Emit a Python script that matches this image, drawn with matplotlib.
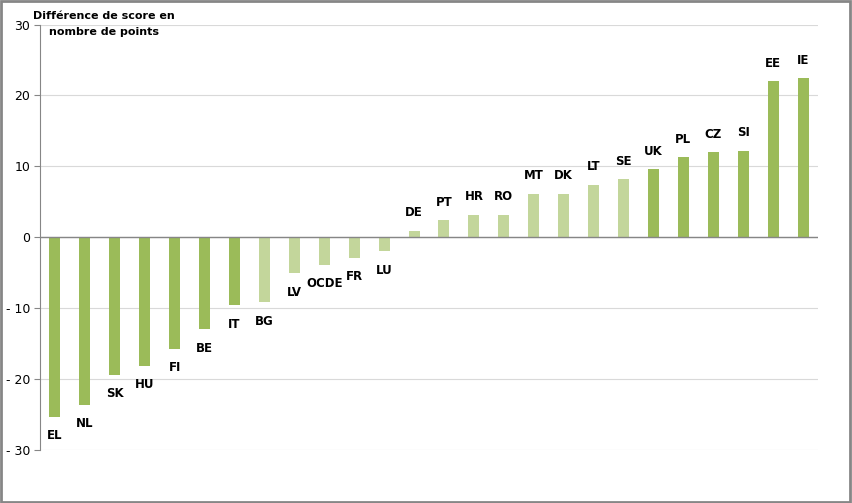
import matplotlib
matplotlib.use("Agg")
import matplotlib.pyplot as plt
from matplotlib.patches import Rectangle

countries = ["EL", "NL", "SK", "HU", "FI", "BE", "IT", "BG", "LV", "OCDE", "FR", "LU", "DE",
             "PT", "HR", "RO", "MT", "DK", "LT", "SE", "UK", "PL", "CZ", "SI", "EE", "IE"]
values = [-25.3, -23.6, -19.4, -18.1, -15.7, -13.0, -9.6, -9.2, -5.1, -3.9, -2.9, -2.0, 0.9,
          2.4, 3.2, 3.2, 6.1, 6.1, 7.4, 8.2, 9.6, 11.3, 12.0, 12.2, 22.0, 22.4]
# True = statistically significant (dark green), False = not significant (light green)
significant = [True, True, True, True, True, True, True, False, False, False, False, False, False,
               False, False, False, False, False, False, False, True, True, True, True, True, True]
yticks = [-30, -20, -10, 0, 10, 20, 30]
ytick_labels = ["- 30", "- 20", "- 10", "0", "10", "20", "30"]

DARK = "#9BBB59"
LIGHT = "#C3D69B"

fig = plt.figure(figsize=(8.52, 5.03), dpi=100)
ax = fig.add_axes([40 / 852, 1 - 450 / 503, 778 / 852, 425.5 / 503])

x = list(range(len(countries)))
colors = [DARK if s else LIGHT for s in significant]
ax.bar(x, values, width=0.37, color=colors, zorder=3)

for xi, v, name in zip(x, values, countries):
    off = 18 if v >= 0 else -19
    ax.annotate(name, (xi, v), xytext=(0, off), textcoords="offset pixels",
                ha="center", va="center", fontsize=8.5, fontweight="bold", color="black")

ax.set_xlim(-0.5, len(countries) - 0.5)
ax.set_ylim(-30, 30)
ax.set_yticks(yticks)
ax.set_yticklabels(ytick_labels, fontsize=9)
ax.set_xticks([])
ax.yaxis.grid(True, color="#d9d9d9", linewidth=0.8, zorder=0)
ax.axhline(0, color="#868686", linewidth=1.0, zorder=4)
for s in ["top", "right", "bottom"]:
    ax.spines[s].set_visible(False)
ax.spines["left"].set_color("#868686")
ax.tick_params(axis="y", length=4, color="#868686", pad=3)

fig.text(104 / 852, 1 - 24 / 503, "Différence de score en\nnombre de points", ha="center",
         va="center", fontsize=8, fontweight="bold", linespacing=1.85)

fig.patches.append(Rectangle((0.001, 0.001), 0.997, 0.997, transform=fig.transFigure,
                             fill=False, edgecolor="#868686", linewidth=2))

plt.savefig("out.png", dpi=100)
